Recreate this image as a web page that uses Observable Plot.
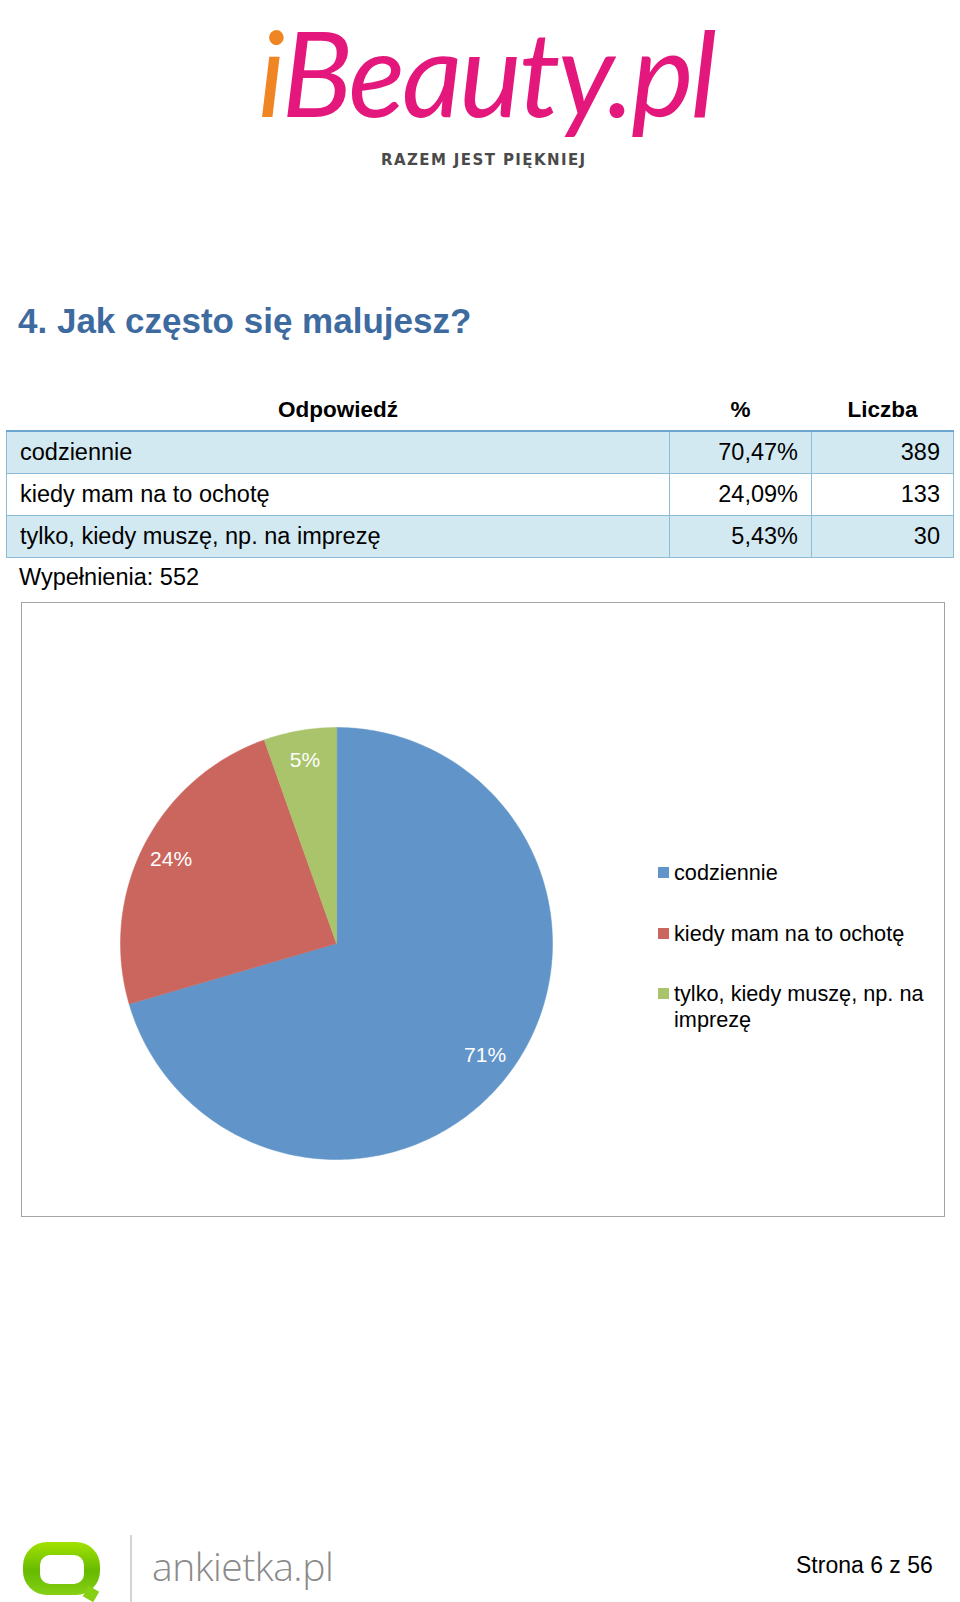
<!DOCTYPE html>
<html>
<head>
<meta charset="utf-8">
<script src="https://cdn.jsdelivr.net/npm/d3@7"></script>
<script src="https://cdn.jsdelivr.net/npm/@observablehq/plot@0.6"></script>
<style>
  html, body { margin: 0; padding: 0; background: #fff; }
  body { width: 960px; height: 1602px; position: relative; overflow: hidden;
         font-family: "Liberation Sans", Arial, sans-serif; color: #000; }
  .abs { position: absolute; }
  #logo { left: 250px; top: 0px; width: 470px; height: 185px; }
  #logo .word { position: absolute; left: 8px; top: 1px; font-family: "Lato", sans-serif; line-height: 1.2;
                font-style: italic; font-size: 118px; letter-spacing: -3px; color: #e3177c; white-space: nowrap; }
  #logo .word .i { color: #f08524; }
  #logo .tag { position: absolute; left: 131px; top: 151px; font-family: "DejaVu Sans", sans-serif;
               font-weight: bold; font-size: 15px; letter-spacing: 1.4px; color: #4a4a4a; white-space: nowrap; }
  #title { left: 18px; top: 301px; font-size: 35px; font-weight: bold; color: #3d6ba0; white-space: nowrap; }
  #tbl { left: 6px; top: 390px; border-collapse: collapse; font-size: 23.5px; }
  #tbl th { font-weight: bold; height: 40px; text-align: center; padding: 0; vertical-align: middle; font-size: 22.5px; }
  #tbl td { height: 41px; border: 1.5px solid #8dbbd8; padding: 0 13px; vertical-align: middle; }
  #tbl tr.first td { border-top: 2.5px solid #6aa6cf; }
  #tbl tr.odd td { background: #d3e9f2; }
  #tbl td.num { text-align: right; }
  #fill { left: 19px; top: 564px; font-size: 23.5px; }
  #chartbox { left: 21px; top: 602px; width: 922px; height: 613px; border: 1.5px solid #a3a3a3; }
  #chartbox svg { position: absolute; left: 0; top: 0; }
  .leg { position: absolute; left: 636px; width: 270px; font-size: 21.7px; line-height: 26px; }
  .leg .sw { position: absolute; left: 0; top: 7px; width: 11px; height: 11px; }
  .leg .lbl { position: absolute; left: 16px; width: 258px; }
  #ankietka-icon { left: 23px; top: 1542px; width: 77px; height: 53px; border-radius: 24px;
                   background: linear-gradient(#a3e200, #66ba00 55%, #86d014); }
  #ankietka-icon .in { position: absolute; left: 17px; top: 13px; width: 44px; height: 29px; border-radius: 10px; background: #fff; }
  #ankietka-icon .tail { position: absolute; left: 62px; top: 46px; width: 12px; height: 12px; background: #86d014; transform: rotate(30deg); }
  #vline { left: 130px; top: 1535px; width: 1.5px; height: 67px; background: #d4d4d4; }
  #ankietka { left: 152px; top: 1539px; font-family: "Open Sans", sans-serif; font-weight: 300; font-size: 39px; color: #8a8a8a; white-space: nowrap; letter-spacing: -0.5px; }
  #page { left: 796px; top: 1552px; font-family: "Liberation Sans Narrow", "Arial Narrow", sans-serif; font-size: 23px; white-space: nowrap; }
</style>
</head>
<body>
<script>
// ---------- data ----------
const categories = ["codziennie", "kiedy mam na to ochotę", "tylko, kiedy muszę, np. na imprezę"];
const percentLabels = ["70,47%", "24,09%", "5,43%"];
const percents = [70.47, 24.09, 5.43];
const counts = [389, 133, 30];
const sliceLabels = ["71%", "24%", "5%"];
const headers = ["Odpowiedź", "%", "Liczba"];
const totalLabel = "Wypełnienia: 552";
const titleText = "4. Jak często się malujesz?";
const pageText = "Strona 6 z 56";
const sliceColors = ["#6195c9", "#cb665e", "#a9c46b"];

// ---------- header / logo ----------
const logo = document.createElement("div");
logo.id = "logo"; logo.className = "abs";
logo.innerHTML = '<div class="word"><span class="i">i</span>Beauty.pl</div><div class="tag">RAZEM JEST PIĘKNIEJ</div>';
document.body.appendChild(logo);

const title = document.createElement("div");
title.id = "title"; title.className = "abs"; title.textContent = titleText;
document.body.appendChild(title);

// ---------- table ----------
const tbl = document.createElement("table");
tbl.id = "tbl"; tbl.className = "abs";
const colW = [663, 142, 142];
const hr = document.createElement("tr");
headers.forEach((h, i) => { const th = document.createElement("th"); th.textContent = h; th.style.width = colW[i] + "px"; hr.appendChild(th); });
tbl.appendChild(hr);
categories.forEach((c, i) => {
  const tr = document.createElement("tr");
  tr.className = (i === 0 ? "first " : "") + (i % 2 === 0 ? "odd" : "even");
  const cells = [c, percentLabels[i], String(counts[i])];
  cells.forEach((v, j) => { const td = document.createElement("td"); td.textContent = v; if (j > 0) td.className = "num"; tr.appendChild(td); });
  tbl.appendChild(tr);
});
document.body.appendChild(tbl);

const fill = document.createElement("div");
fill.id = "fill"; fill.className = "abs"; fill.textContent = totalLabel;
document.body.appendChild(fill);

// ---------- pie chart via Plot ----------
const W = 922, H = 613;
const cx = 314, cy = 340, R = 216;   // pixel layout of the pie inside the box
const pie = d3.pie().sort(null).value(d => d.value)(categories.map((c, i) => ({label: c, value: percents[i], text: sliceLabels[i]})));

// outline points of each slice (unit circle coordinates, angle 0 at 12 o'clock, clockwise)
const slicePts = [];
pie.forEach(s => {
  slicePts.push({label: s.data.label, x: 0, y: 0});
  const n = Math.max(2, Math.ceil((s.endAngle - s.startAngle) / (Math.PI / 180)));
  for (let k = 0; k <= n; k++) {
    const a = s.startAngle + (s.endAngle - s.startAngle) * k / n;
    slicePts.push({label: s.data.label, x: Math.sin(a), y: Math.cos(a)});
  }
});
const labelPts = pie.map(s => {
  const a = (s.startAngle + s.endAngle) / 2;
  const rr = 0.86;
  return {label: s.data.label, text: s.data.text, x: rr * Math.sin(a), y: rr * Math.cos(a)};
});

const svg = Plot.plot({
  width: W, height: H,
  margin: 0,
  x: {domain: [-cx / R, (W - cx) / R], axis: null},
  y: {domain: [-(H - cy) / R, cy / R], axis: null},
  color: {type: "ordinal", domain: categories, range: sliceColors},
  style: {background: "transparent", overflow: "visible"},
  marks: [
    Plot.line(slicePts, {x: "x", y: "y", z: "label", fill: "label", stroke: "label", strokeWidth: 0.5, curve: "linear-closed"}),
    Plot.text(labelPts, {x: "x", y: "y", text: "text", fill: "white", fontSize: 21, fontFamily: "Liberation Sans, Arial, sans-serif"})
  ]
});

const box = document.createElement("div");
box.id = "chartbox"; box.className = "abs";
box.appendChild(svg);
categories.forEach((c, i) => {
  const it = document.createElement("div");
  it.className = "leg";
  it.style.top = (257 + i * 60.5) + "px";
  it.innerHTML = `<div class="sw" style="background:${sliceColors[i]}"></div><div class="lbl"></div>`;
  it.querySelector(".lbl").textContent = c;
  box.appendChild(it);
});
document.body.appendChild(box);

// ---------- footer ----------
const icon = document.createElement("div");
icon.id = "ankietka-icon"; icon.className = "abs"; icon.innerHTML = '<div class="tail"></div><div class="in"></div>';
document.body.appendChild(icon);
const vl = document.createElement("div"); vl.id = "vline"; vl.className = "abs"; document.body.appendChild(vl);
const ank = document.createElement("div"); ank.id = "ankietka"; ank.className = "abs"; ank.textContent = "ankietka.pl"; document.body.appendChild(ank);
const pg = document.createElement("div"); pg.id = "page"; pg.className = "abs"; pg.textContent = pageText; document.body.appendChild(pg);
</script>
</body>
</html>
